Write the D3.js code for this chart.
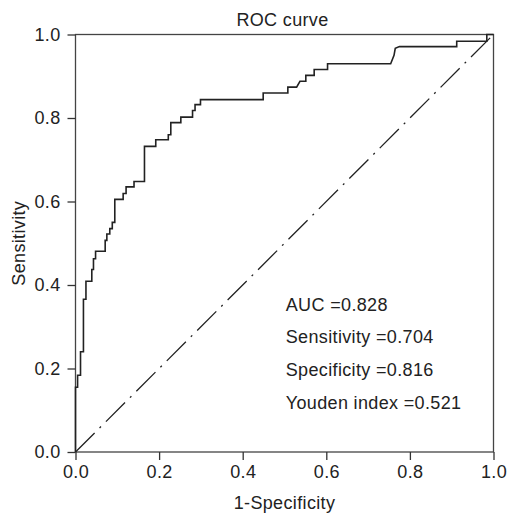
<!DOCTYPE html>
<html lang="en">
<head>
<meta charset="utf-8">
<title>ROC curve</title>
<script src="https://cdn.jsdelivr.net/npm/d3@7/dist/d3.min.js"></script>
<style>
  * { margin: 0; padding: 0; }
  body { background: #fff; font-family: "Liberation Sans", Arial, Helvetica, sans-serif; }
  svg { display: block; }
  .axis path, .axis line { stroke: #333; stroke-width: 1.3; }
  .axis text { font-family: "Liberation Sans", Arial, sans-serif; font-size: 18px; letter-spacing: 0.35px; fill: #222; }
  .label { font-size: 18px; letter-spacing: 0.35px; fill: #222; }
</style>
</head>
<body>
<div id="chart"></div>
<script>
// ROC points (1-specificity, sensitivity)
var fpr = [0, 0, 0.005, 0.005, 0.012, 0.012, 0.019, 0.019, 0.025, 0.025,
  0.039, 0.039, 0.043, 0.043, 0.048, 0.048, 0.071, 0.071, 0.075, 0.075,
  0.082, 0.082, 0.088, 0.088, 0.094, 0.094, 0.114, 0.114, 0.121, 0.121,
  0.140, 0.140, 0.165, 0.165, 0.192, 0.192, 0.222, 0.222, 0.228, 0.228,
  0.252, 0.252, 0.280, 0.280, 0.286, 0.286, 0.299, 0.299, 0.449, 0.449,
  0.508, 0.508, 0.529, 0.537, 0.551, 0.551, 0.571, 0.571, 0.603, 0.603,
  0.754, 0.762, 0.765, 0.775, 0.912, 0.912, 0.984, 0.984, 1.0];
var tpr = [0, 0.155, 0.155, 0.184, 0.184, 0.240, 0.240, 0.366, 0.366, 0.409,
  0.409, 0.437, 0.437, 0.463, 0.463, 0.481, 0.481, 0.507, 0.507, 0.522,
  0.522, 0.535, 0.535, 0.550, 0.550, 0.605, 0.605, 0.619, 0.619, 0.635,
  0.635, 0.648, 0.648, 0.732, 0.732, 0.748, 0.748, 0.760, 0.760, 0.789,
  0.789, 0.802, 0.802, 0.818, 0.818, 0.832, 0.832, 0.844, 0.844, 0.860,
  0.860, 0.874, 0.874, 0.888, 0.888, 0.902, 0.902, 0.916, 0.916, 0.930,
  0.930, 0.950, 0.967, 0.971, 0.971, 0.984, 0.984, 1.0, 1.0];

// reference (chance) line
var chanceLine = [0, 1];

var ticks = [0, 0.2, 0.4, 0.6, 0.8, 1.0];

var statNames = ["AUC", "Sensitivity", "Specificity", "Youden index"];
var statValues = ["0.828", "0.704", "0.816", "0.521"];

var title = "ROC curve";
var xTitle = "1-Specificity";
var yTitle = "Sensitivity";

var w = 509, h = 514;
var margin = {top: 34.5, right: 15.5, bottom: 62, left: 75.5};
var pw = w - margin.left - margin.right;
var ph = h - margin.top - margin.bottom;

var svg = d3.select("#chart").append("svg")
    .attr("width", w)
    .attr("height", h);

var g = svg.append("g")
    .attr("transform", "translate(" + margin.left + "," + margin.top + ")");

var x = d3.scaleLinear().domain([0, 1]).range([0, pw]);
var y = d3.scaleLinear().domain([0, 1]).range([ph, 0]);

//frame (top and right sides)
g.append("rect")
    .attr("width", pw)
    .attr("height", ph)
    .attr("fill", "none")
    .attr("stroke", "#444")
    .attr("stroke-width", 1.3);

//chance diagonal, dash-dot
g.append("line")
    .attr("x1", x(chanceLine[0])).attr("y1", y(chanceLine[0]))
    .attr("x2", x(chanceLine[1])).attr("y2", y(chanceLine[1]))
    .attr("stroke", "#222")
    .attr("stroke-width", 1.3)
    .attr("stroke-dasharray", "27,7,2,7");

//the ROC curve
var pts = fpr.map(function(d, i) { return [d, tpr[i]]; });
var line = d3.line()
    .x(function(d) { return x(d[0]); })
    .y(function(d) { return y(d[1]); });

g.append("path")
    .datum(pts)
    .attr("d", line)
    .attr("fill", "none")
    .attr("stroke", "#222")
    .attr("stroke-width", 1.6);

//axes
var fmt = d3.format(".1f");
g.append("g")
    .attr("class", "axis")
    .attr("transform", "translate(0," + ph + ")")
    .call(d3.axisBottom(x).tickValues(ticks).tickFormat(fmt).tickSize(8).tickSizeOuter(0).tickPadding(5))
    .call(function(s) { s.select(".domain").remove(); });

g.append("g")
    .attr("class", "axis")
    .call(d3.axisLeft(y).tickValues(ticks).tickFormat(fmt).tickSize(8).tickSizeOuter(0).tickPadding(7))
    .call(function(s) { s.select(".domain").remove(); });

//titles
svg.append("text")
    .attr("class", "label")
    .attr("x", margin.left + pw / 2 - 2)
    .attr("y", 26)
    .attr("text-anchor", "middle")
    .text(title);

svg.append("text")
    .attr("class", "label")
    .attr("x", margin.left + pw / 2)
    .attr("y", 509)
    .attr("text-anchor", "middle")
    .text(xTitle);

svg.append("text")
    .attr("class", "label")
    .attr("transform", "translate(25," + (margin.top + ph / 2) + ") rotate(-90)")
    .attr("text-anchor", "middle")
    .text(yTitle);

//stats block
g.append("g")
    .selectAll("text")
    .data(statNames)
    .enter().append("text")
    .attr("class", "label")
    .attr("x", x(0.503))
    .attr("y", function(d, i) { return 276 + i * 32.7; })
    .text(function(d, i) { return d + " =" + statValues[i]; });
</script>
</body>
</html>
